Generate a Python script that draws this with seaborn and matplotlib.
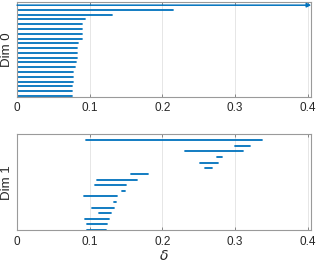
import numpy as np
import pandas as pd
import seaborn as sns
import matplotlib
matplotlib.use("Agg")
import matplotlib.pyplot as plt

# persistence barcodes
dim0_birth = [0.0] * 20
dim0_death = [np.inf, 0.215, 0.131, 0.093, 0.090, 0.090, 0.0894, 0.089, 0.0835, 0.083,
              0.083, 0.082, 0.0817, 0.080, 0.0775, 0.077, 0.0766, 0.076, 0.0757, 0.075]

dim1_birth = [0.0945, 0.2995, 0.2307, 0.2748, 0.2514, 0.2587, 0.157, 0.1106, 0.1073,
              0.144, 0.0922, 0.133, 0.103, 0.113, 0.093, 0.0963, 0.0959]
dim1_death = [0.337, 0.320, 0.3106, 0.2826, 0.276, 0.2688, 0.180, 0.1656, 0.1505,
              0.1486, 0.137, 0.1358, 0.134, 0.129, 0.127, 0.1243, 0.122]

xticks = [0, 0.1, 0.2, 0.3, 0.4]
xmax = 0.405
blue = "#0072BD"

sns.set_style("white")
plt.rcParams["font.family"] = ["Liberation Sans", "DejaVu Sans"]


def to_long(birth, death):
    n = len(birth)
    rows = []
    for i, (b, d) in enumerate(zip(birth, death)):
        y = n - 1 - i
        if np.isinf(d):
            continue
        rows.append({"bar": i, "x": b, "y": y})
        rows.append({"bar": i, "x": d, "y": y})
    return pd.DataFrame(rows)


def style_ax(ax, label):
    ax.set_xlim(0, xmax)
    ax.set_xticks(xticks)
    ax.set_xticklabels(["0", "0.1", "0.2", "0.3", "0.4"])
    ax.set_yticks([])
    ax.grid(axis="x", color="#e6e6e6", lw=0.7)
    ax.set_axisbelow(True)
    for s in ax.spines.values():
        s.set_color("#9a9a9a")
        s.set_linewidth(0.8)
    ax.tick_params(axis="x", direction="in", length=2.5, width=0.6, color="#777777",
                   labelsize=8.5, labelcolor="#262626", pad=4, top=True, bottom=True)
    ax.set_ylabel(label, fontsize=9.5, color="#262626", labelpad=3)


fig = plt.figure(figsize=(3.16, 2.63), dpi=100)
ax0 = fig.add_axes([0.054, 0.632, 0.931, 0.361])
ax1 = fig.add_axes([0.054, 0.1255, 0.931, 0.364])

d0 = to_long(dim0_birth, dim0_death)
sns.lineplot(data=d0, x="x", y="y", units="bar", estimator=None, color=blue,
             lw=1.3, ax=ax0, legend=False)
n0 = len(dim0_birth)
for i, (b, d) in enumerate(zip(dim0_birth, dim0_death)):
    if np.isinf(d):
        y = n0 - 1 - i
        ax0.annotate("", xy=(xmax, y), xytext=(b, y),
                     arrowprops=dict(arrowstyle="-|>", color=blue, lw=1.1,
                                     mutation_scale=6, shrinkA=0, shrinkB=0),
                     annotation_clip=False)
ax0.set_ylim(-0.2, n0 - 1 + 0.7)
style_ax(ax0, "Dim 0")
ax0.set_xlabel("")

d1 = to_long(dim1_birth, dim1_death)
sns.lineplot(data=d1, x="x", y="y", units="bar", estimator=None, color=blue,
             lw=1.3, ax=ax1, legend=False)
n1 = len(dim1_birth)
ax1.set_ylim(0, n1 - 1 + 1.07)
style_ax(ax1, "Dim 1")
ax1.set_xlabel(r"$\delta$", fontsize=10, color="#262626", labelpad=1)

fig.savefig("out.png", dpi=100)
